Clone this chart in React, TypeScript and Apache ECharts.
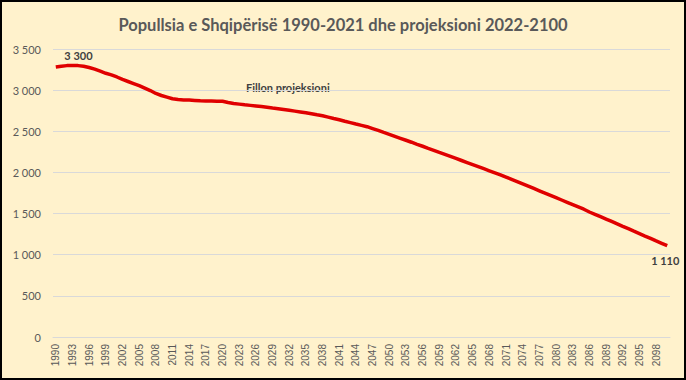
import React, { useEffect, useRef } from "react";
import * as echarts from "echarts";

const years: string[] = [];
for (let y = 1990; y <= 2100; y++) years.push(String(y));

const population: number[] = [
  3280, 3290, 3298, 3300, 3298, 3290, 3275, 3255, 3230, 3205, // 1990-1999
  3185, 3160, 3130, 3105, 3080, 3055, 3025, 2995, 2960, 2935, // 2000-2009
  2915, 2895, 2885, 2880, 2880, 2875, 2870, 2868, 2867, 2866, // 2010-2019
  2865, 2850, 2838, 2830, 2822, 2815, 2808, 2800, 2792, 2783, // 2020-2029
  2775, 2765, 2755, 2745, 2735, 2725, 2713, 2700, 2688, 2672, // 2030-2039
  2655, 2640, 2622, 2605, 2588, 2572, 2556, 2533, 2510, 2486, // 2040-2049
  2463, 2439, 2415, 2391, 2367, 2342, 2318, 2293, 2269, 2244, // 2050-2059
  2220, 2195, 2170, 2145, 2120, 2095, 2070, 2045, 2020, 1995, // 2060-2069
  1970, 1943, 1916, 1889, 1861, 1833, 1805, 1777, 1749, 1721, // 2070-2079
  1693, 1665, 1637, 1609, 1581, 1553, 1519, 1491, 1462, 1433, // 2080-2089
  1404, 1375, 1345, 1316, 1286, 1257, 1227, 1198, 1168, 1139, // 2090-2099
  1110, // 2100
];

const labelledYears = ["1993", "2100"];
const labelTexts = ["3 300", "1 110"];
const annotationText = "Fillon projeksioni";

const fmt = (v: number) => {
  const s = String(Math.round(v));
  return s.replace(/\B(?=(\d{3})+(?!\d))/g, " ");
};

export default function App() {
  const ref = useRef<HTMLDivElement>(null);
  useEffect(() => {
    document.body.style.margin = "0";
    const chart = echarts.init(ref.current!, null, { renderer: "svg" });
    const markData = labelledYears.map((y, idx) => {
      const i = years.indexOf(y);
      const isEnd = idx === 1;
      return {
        coord: [y, population[i]],
        label: {
          show: true,
          formatter: labelTexts[idx],
          position: isEnd ? "bottom" : "top",
          offset: isEnd ? [-2, 4] : [6, 1],
          color: "#404040",
          fontSize: 11,
          fontWeight: "bold",
          fontFamily: "Lato",
        },
      };
    });
    chart.setOption({
      animation: false,
      backgroundColor: "transparent",
      title: {
        text: "Popullsia e Shqipërisë 1990-2021 dhe projeksioni 2022-2100",
        left: "center",
        top: 9,
        textStyle: {
          fontFamily: "Lato",
          fontSize: 16.5,
          fontWeight: "bold",
          color: "#595959",
        },
      },
      grid: { left: 51, right: 14, top: 47, bottom: 41, containLabel: false },
      xAxis: {
        type: "category",
        data: years,
        boundaryGap: true,
        axisLine: { lineStyle: { color: "#D9D9D9" } },
        axisTick: { show: false },
        axisLabel: {
          interval: 2,
          rotate: 90,
          color: "#595959",
          fontSize: 10,
          fontFamily: "Liberation Sans",
          margin: 7,
        },
      },
      yAxis: {
        type: "value",
        min: 0,
        max: 3500,
        interval: 500,
        axisLine: { show: false },
        axisTick: { show: false },
        splitLine: { lineStyle: { color: "#D9D9D9" } },
        axisLabel: {
          formatter: fmt,
          color: "#595959",
          fontSize: 11,
          fontFamily: "Lato",
          margin: 12,
        },
      },
      graphic: [
        {
          type: "text",
          left: 244,
          top: 80,
          style: {
            text: annotationText,
            fill: "#404040",
            font: "bold 11px Lato",
          },
        },
      ],
      series: [
        {
          type: "line",
          data: population,
          symbol: "none",
          smooth: false,
          lineStyle: { color: "#E00000", width: 3.5 },
          markPoint: {
            symbol: "circle",
            symbolSize: 1,
            itemStyle: { color: "rgba(0,0,0,0)" },
            silent: true,
            data: markData,
          },
        },
      ],
    });
    return () => chart.dispose();
  }, []);
  return (
    <div
      style={{
        width: 686,
        height: 380,
        boxSizing: "border-box",
        border: "2px solid #000",
        background: "#FFF2CC",
      }}
    >
      <div ref={ref} style={{ width: 682, height: 376 }} />
    </div>
  );
}
